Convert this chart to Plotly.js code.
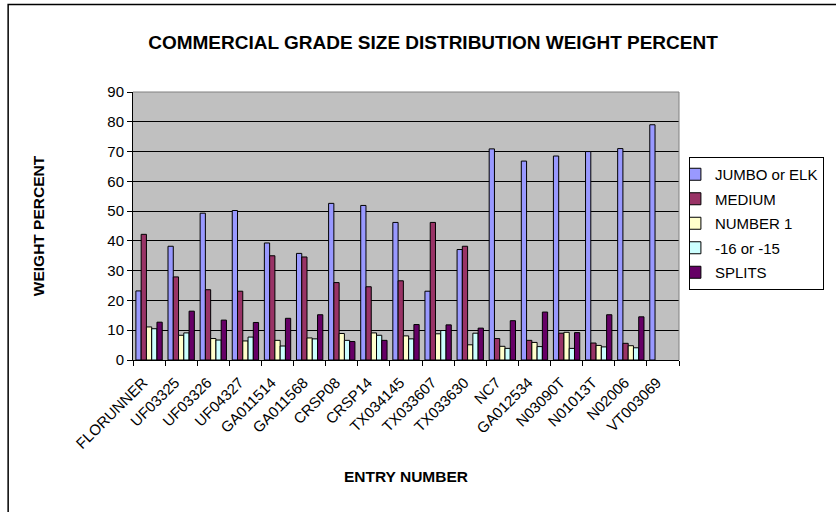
<!DOCTYPE html>
<html>
<head>
<meta charset="utf-8">
<script src="https://cdn.plot.ly/plotly-3.0.1.min.js"></script>
<style>html,body{margin:0;padding:0;background:#fff;}#chart{width:836px;height:512px;}</style>
</head>
<body>
<div id="chart"></div>
<script>
const categories = ["FLORUNNER","UF03325","UF03326","UF04327","GA011514","GA011568","CRSP08","CRSP14","TX034145","TX033607","TX033630","NC7","GA012534","N03090T","N01013T","N02006","VT003069"];
const jumbo   = [23.2, 38.2, 49.3, 50.2, 39.3, 35.8, 52.6, 51.9, 46.2, 23.1, 37.1, 70.9, 66.8, 68.5, 70.0, 71.0, 79.0];
const medium  = [42.2, 27.9, 23.6, 23.1, 35.0, 34.6, 26.0, 24.6, 26.6, 46.2, 38.2, 7.2, 6.6, 9.0, 5.7, 5.6, null];
const number1 = [11.1, 8.3, 7.2, 6.4, 6.6, 7.4, 8.9, 9.1, 8.1, 8.8, 5.1, 4.6, 5.9, 9.3, 4.9, 4.8, null];
const m16     = [10.5, 9.1, 6.7, 7.7, 4.7, 7.1, 6.6, 8.3, 7.1, 9.9, 9.0, 3.9, 4.5, 3.9, 4.4, 4.1, null];
const splits  = [12.7, 16.4, 13.4, 12.6, 14.0, 15.2, 6.2, 6.6, 11.9, 11.8, 10.7, 13.2, 16.1, 9.2, 15.2, 14.5, null];
const seriesNames = ["JUMBO or ELK", "MEDIUM", "NUMBER 1", "-16 or -15", "SPLITS"];
const seriesColors = ["#9999FF", "#993366", "#FFFFCC", "#CCFFFF", "#660066"];
const seriesValues = [jumbo, medium, number1, m16, splits];

const traces = seriesValues.map((vals, i) => ({
  type: 'bar',
  name: seriesNames[i],
  x: categories,
  y: vals,
  legendgroup: 'g' + i,
  marker: {color: seriesColors[i], line: {color: '#000000', width: 1}},
  hoverinfo: 'x+y+name'
}));

const L = 133, R = 684, T = 92, B = 360, W = 836, H = 512;
const px = v => (v - L) / (R - L);
const py = v => (B - v) / (B - T);

const layout = {
  width: W, height: H,
  margin: {l: L, r: W - R, t: T, b: H - B, pad: 0},
  paper_bgcolor: '#ffffff',
  plot_bgcolor: '#C0C0C0',
  font: {family: 'Liberation Sans, Arial, sans-serif', color: '#000000', size: 15},
  barmode: 'group',
  bargap: 0.18,
  bargroupgap: 0,
  showlegend: true,
  title: {
    text: 'COMMERCIAL GRADE SIZE DISTRIBUTION WEIGHT PERCENT',
    font: {family: 'Liberation Sans, Arial, sans-serif', size: 19, weight: 'bold', color: '#000'},
    xref: 'container', x: 433 / W, xanchor: 'center',
    yref: 'container', y: 1 - 42 / H, yanchor: 'middle'
  },
  xaxis: {
    type: 'category',
    showline: true, linecolor: '#000', linewidth: 1,
    ticks: 'outside', ticklen: 5, tickcolor: '#000', tickson: 'boundaries',
    tickangle: -45,
    tickfont: {size: 15},
    ticklabelshift: -6, ticklabelstandoff: 7,
    showgrid: false,
    title: {text: 'ENTRY NUMBER', font: {size: 15.5, weight: 'bold'}, standoff: 20}
  },
  yaxis: {
    range: [0, 90], dtick: 10, tick0: 0,
    showline: true, linecolor: '#000', linewidth: 1,
    ticks: 'outside', ticklen: 5, tickcolor: '#000',
    tickfont: {size: 15},
    showgrid: true, gridcolor: '#000000', gridwidth: 1,
    zeroline: false,
    title: {text: 'WEIGHT PERCENT', font: {size: 15.5, weight: 'bold'}, standoff: 58}
  },
  legend: {
    x: px(694), y: py(157), xanchor: 'left', yanchor: 'top',
    bgcolor: '#ffffff', bordercolor: '#000000', borderwidth: 1,
    font: {size: 15},
    indentation: -15,
    traceorder: 'grouped', tracegroupgap: 2,
    itemclick: false
  },
  shapes: [
    {type: 'path', xref: 'paper', yref: 'paper', layer: 'above',
     path: 'M 0 1 L 1 1 L 1 0', line: {color: '#808080', width: 1}},
    {type: 'path', xref: 'paper', yref: 'paper', layer: 'above',
     path: 'M ' + px(7) + ' ' + py(600) + ' L ' + px(7) + ' ' + py(4.5) + ' L ' + px(900) + ' ' + py(4.5),
     line: {color: '#000000', width: 1.5}}
  ]
};

Plotly.newPlot('chart', traces, layout, {displayModeBar: false});
</script>
</body>
</html>
